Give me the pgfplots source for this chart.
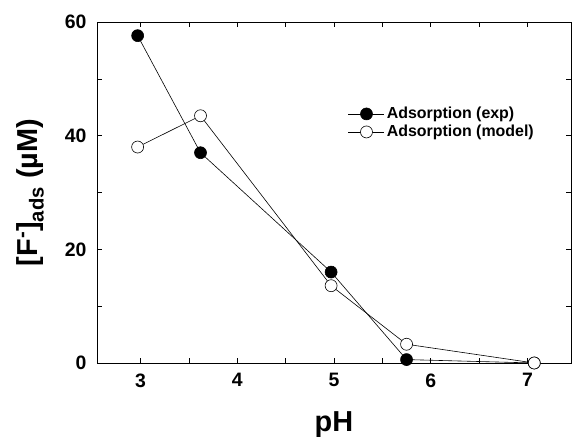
\documentclass[border=0pt]{standalone}
\usepackage{pgfplots}
\pgfplotsset{compat=1.18}
\usepackage{fontspec}
\setmainfont{Liberation Sans}
\begin{document}
\begin{tikzpicture}[x=1bp,y=1bp]
\begin{axis}[
  scale only axis,
  width=474bp, height=341bp,
  at={(97bp,76bp)}, anchor=south west,
  xmin=2.55, xmax=7.45, ymin=0, ymax=60,
  xtick={3,4,5,6,7}, ytick={0,20,40,60},
  minor xtick={3.5,4.5,5.5,6.5}, minor ytick={10,30,50},
  tick align=inside,
  major tick length=5bp, minor tick length=5bp,
  every tick/.style={black, line width=0.6pt},
  axis line style={line width=0.8pt},
  /pgf/number format/assume math mode=true,
  tick label style={font=\fontsize{19.5}{21}\selectfont\bfseries},
  xticklabel style={yshift=-7bp},
  yticklabel style={xshift=-7bp},
  xlabel={pH}, ylabel={[F\textsuperscript{-}]\textsubscript{ads} (µM)},
  label style={font=\fontsize{29}{32}\selectfont\bfseries},
  xlabel style={at={(axis description cs:0.5,-0.2)}, anchor=base},
  ylabel style={at={(axis description cs:-0.141,0.5)}, anchor=center},
  legend style={draw=none, fill=none, at={(0.5295,0.704)}, anchor=west,
    inner sep=0pt, font=\fontsize{16}{18}\selectfont\bfseries, row sep=1bp},
  legend cell align=left,
  legend image code/.code={
    \draw[#1, mark=none] (0bp,0bp) -- (36bp,0bp);
    \path[#1] plot coordinates {(18bp,0bp)};
  },
]
\addplot[black, line width=0.6pt, mark=*, mark size=6bp, mark options={fill=black}]
  coordinates {(2.97,57.6) (3.62,37.0) (4.97,16.0) (5.75,0.6) (7.07,0.0)};
\addlegendentry{Adsorption (exp)}
\addplot[black, line width=0.6pt, mark=*, mark size=6bp, mark options={fill=white}]
  coordinates {(2.97,38.0) (3.62,43.5) (4.97,13.6) (5.75,3.3) (7.07,0.0)};
\addlegendentry{Adsorption (model)}
\end{axis}
\pgfresetboundingbox
\useasboundingbox (0,0) rectangle (581,439);
\end{tikzpicture}
\end{document}
